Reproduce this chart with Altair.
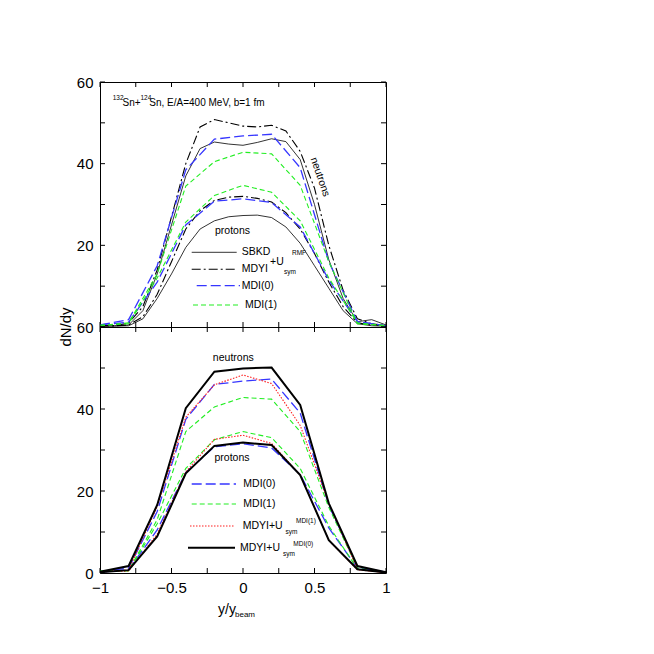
import altair as alt
import pandas as pd

# ---------------- data ----------------
X_FINE = [-1.0, -0.9, -0.8, -0.7, -0.6, -0.5, -0.4, -0.3, -0.2, -0.1, 0.0,
          0.1, 0.2, 0.3, 0.4, 0.5, 0.6, 0.7, 0.8, 0.9, 1.0]
X_COARSE = [-1.0, -0.8, -0.6, -0.4, -0.2, 0.0, 0.2, 0.4, 0.6, 0.8, 1.0]

# top panel
SBKD_N = [0.3, 0.3, 0.5, 4, 13, 25, 37, 43.7, 45.3, 44.8, 44.5, 45.2, 46.1, 45.4, 41, 30, 16.5, 7, 1.3, 1.8, 0.5]
SBKD_P = [0.2, 0.2, 0.3, 2, 7, 13, 19.5, 24, 26, 27, 27.3, 27.4, 26.8, 24.5, 20.5, 15, 9.5, 4, 0.8, 0.3, 0.2]
MDYI_N = [0.3, 0.3, 1, 5, 14, 27, 40, 49, 50.8, 50, 49.2, 49, 49.4, 48, 43, 34, 20, 9, 2, 0.8, 0.3]
MDYI_P = [0.3, 0.3, 0.5, 2.5, 8, 16, 24, 28.5, 31, 31.8, 32, 31.5, 30.6, 28, 24, 18, 11, 5, 1, 0.5, 0.3]
MDI0_N = [0.5, 1.8, 15, 38.5, 46, 46.8, 47.2, 39, 16, 1.3, 0.3]
MDI0_P = [0.5, 1.2, 11, 25, 30.8, 31.4, 30.5, 24.5, 11.5, 1.3, 0.3]
MDI1_N = [0.4, 1, 13, 34.5, 40.5, 42.8, 42.4, 34.7, 16, 0.8, 0.3]
MDI1_P = [0.4, 0.8, 12, 25.7, 32.2, 34.7, 33, 26, 12, 1, 0.3]

# bottom panel
B_MDI0_N = [0.3, 1.2, 15, 37.5, 46, 46.8, 47.3, 39, 16.5, 1.5, 0.2]
B_MDI0_P = [0.2, 0.8, 10.5, 24.5, 30.8, 31.5, 30.5, 24, 11, 1.2, 0.2]
B_MDI1_N = [0.5, 0.6, 13, 34.5, 40.5, 42.8, 42.4, 34.5, 16, 1.2, 0.2]
B_MDI1_P = [0.5, 0.5, 12, 25.5, 32.5, 34.5, 33, 25.5, 11.5, 1, 0.2]
B_MDYI1_N = [0.3, 0.7, 16.2, 38, 45.9, 48.3, 46.2, 36, 17, 0.9, 0.1]
B_MDYI1_P = [0.3, 0.5, 9.5, 24.7, 32.6, 33.6, 31.6, 23.9, 8, 0.8, 0.1]
B_MDYI0_N = [0.3, 1.7, 16.6, 40.2, 49.1, 49.9, 50.1, 41, 17, 1.7, 0.2]
B_MDYI0_P = [0.2, 0.7, 8.9, 24.3, 31, 31.8, 31.2, 23.9, 8, 0.9, 0.1]

Y_TICKS = [0, 10, 20, 30, 40, 50, 60]
X_TICKS = [-1, -0.75, -0.5, -0.25, 0, 0.25, 0.5, 0.75, 1]
Y_LABELS_TOP = [20, 40, 60]
Y_LABELS_BOT = [0, 20, 40, 60]
X_LABELS = [-1, -0.5, 0, 0.5, 1]


def long_df(x, n, p, model):
    rows = []
    for xi, v in zip(x, n):
        rows.append({"x": xi, "y": v, "model": model, "part": "neutrons"})
    for xi, v in zip(x, p):
        rows.append({"x": xi, "y": v, "model": model, "part": "protons"})
    return rows


top_df = pd.DataFrame(
    long_df(X_FINE, SBKD_N, SBKD_P, "SBKD")
    + long_df(X_FINE, MDYI_N, MDYI_P, "MDYI")
    + long_df(X_COARSE, MDI0_N, MDI0_P, "MDI0")
    + long_df(X_COARSE, MDI1_N, MDI1_P, "MDI1")
)
bot_df = pd.DataFrame(
    long_df(X_COARSE, B_MDI0_N, B_MDI0_P, "MDI0")
    + long_df(X_COARSE, B_MDI1_N, B_MDI1_P, "MDI1")
    + long_df(X_COARSE, B_MDYI1_N, B_MDYI1_P, "MDYI1")
    + long_df(X_COARSE, B_MDYI0_N, B_MDYI0_P, "MDYI0")
)

# ---------------- styling ----------------
W, H1, H2 = 286, 245, 246
REG = "Liberation Sans"
NAR = "Liberation Sans"
BLUE = "#3636ff"
GREEN = "#22ee22"
RED = "#ff2020"
FS = 10.5   # legend text size
SUP = 6.5   # super/subscript size

STYLE = {
    "SBKD": dict(color="black", strokeWidth=0.8),
    "MDYI": dict(color="black", strokeWidth=1.1, strokeDash=[9, 3, 2, 3]),
    "MDI0": dict(color=BLUE, strokeWidth=1.3, strokeDash=[10, 4]),
    "MDI1": dict(color=GREEN, strokeWidth=1.1, strokeDash=[5, 3]),
    "MDYI1": dict(color=RED, strokeWidth=1.1, strokeDash=[1.5, 1.5]),
    "MDYI0": dict(color="black", strokeWidth=2),
}

xs = alt.Scale(domain=[-1, 1], nice=False, zero=False)
ys = alt.Scale(domain=[0, 60], nice=False)


def yaxis(vals):
    return alt.Axis(values=vals, title=None, ticks=False, domain=False, grid=False,
                    labelFont=REG, labelFontSize=15, labelPadding=7, labelColor="black",
                    labelFlush=False)


XAX_BOT = alt.Axis(values=X_LABELS, format=".1~f", title=None, ticks=False, domain=False,
                   grid=False, labelFont=REG, labelFontSize=15, labelPadding=7,
                   labelColor="black", labelFlush=False)

DUMMY = pd.DataFrame({"d": [0]})
ydf = pd.DataFrame({"v": Y_TICKS})
xdf = pd.DataFrame({"v": X_TICKS})


def panel_layers(df, models, h, yax, xax):
    layers = []
    for m in models:
        layers.append(
            alt.Chart(df).transform_filter(alt.datum.model == m)
            .mark_line(**STYLE[m])
            .encode(x=alt.X("x:Q", scale=xs, axis=xax),
                    y=alt.Y("y:Q", scale=ys, axis=yax),
                    detail="part:N")
        )
    # inward ticks on all four sides
    layers.append(alt.Chart(ydf).mark_rule(color="black", strokeWidth=1).encode(
        y=alt.Y("v:Q", scale=ys, axis=yax), x=alt.value(0), x2=alt.value(5)))
    layers.append(alt.Chart(ydf).mark_rule(color="black", strokeWidth=1).encode(
        y=alt.Y("v:Q", scale=ys, axis=yax), x=alt.value(W - 5), x2=alt.value(W)))
    layers.append(alt.Chart(xdf).mark_rule(color="black", strokeWidth=1).encode(
        x=alt.X("v:Q", scale=xs, axis=xax), y=alt.value(h), y2=alt.value(h - 5)))
    layers.append(alt.Chart(xdf).mark_rule(color="black", strokeWidth=1).encode(
        x=alt.X("v:Q", scale=xs, axis=xax), y=alt.value(0), y2=alt.value(5)))
    return layers


def txt(s, x, y, size, font=NAR, align="left", baseline="middle", angle=0):
    return alt.Chart(DUMMY).mark_text(
        text=s, font=font, fontSize=size, align=align, baseline=baseline,
        angle=angle, color="black").encode(x=alt.value(x), y=alt.value(y))


def sample(model, x1, x2, y):
    return alt.Chart(DUMMY).mark_rule(**STYLE[model]).encode(
        x=alt.value(x1), x2=alt.value(x2), y=alt.value(y))


# ---------------- top panel ----------------
top_layers = panel_layers(top_df, ["SBKD", "MDYI", "MDI0", "MDI1"], H1, yaxis(Y_LABELS_TOP), None)
top_layers += [
    txt("132", 12.7, 17.5, SUP, baseline="alphabetic"),
    txt("Sn+", 22.5, 24, 10, baseline="alphabetic"),
    txt("124", 40.5, 17.5, SUP, baseline="alphabetic"),
    txt("Sn, E/A=400 MeV, b=1 fm", 49.3, 24, 10, baseline="alphabetic"),
    txt("protons", 132.5, 148.8, FS, align="center"),
    txt("neutrons", 220, 95, FS, align="center", angle=71),
    sample("SBKD", 91.7, 136.7, 170.3),
    txt("SBKD", 141.7, 170.3, FS),
    sample("MDYI", 91.7, 136.7, 187.3),
    txt("MDYI", 141.7, 187.3, FS),
    txt("+U", 170, 183, FS, baseline="alphabetic"),
    txt("sym", 184, 191.5, SUP, baseline="alphabetic"),
    txt("RMF", 192, 172.5, SUP, baseline="alphabetic"),
    sample("MDI0", 96.7, 140, 203.7),
    txt("MDI(0)", 141.7, 203.7, FS),
    sample("MDI1", 93, 138, 223),
    txt("MDI(1)", 145, 223, FS),
]
top = alt.layer(*top_layers).properties(width=W, height=H1)

# ---------------- bottom panel ----------------
bot_layers = panel_layers(bot_df, ["MDI0", "MDI1", "MDYI1", "MDYI0"], H2, yaxis(Y_LABELS_BOT), XAX_BOT)
bot_layers += [
    txt("neutrons", 133.3, 31.3, FS, align="center"),
    txt("protons", 132, 131.3, FS, align="center"),
    sample("MDI0", 91.7, 136, 157),
    txt("MDI(0)", 143.3, 157, FS),
    sample("MDI1", 91.7, 136, 177),
    txt("MDI(1)", 143.3, 177, FS),
    sample("MDYI1", 90, 135, 199),
    txt("MDYI+U", 142.7, 198.5, FS),
    txt("sym", 185.5, 207, SUP, baseline="alphabetic"),
    txt("MDI(1)", 196, 196, SUP, baseline="alphabetic"),
    sample("MDYI0", 88, 135, 220.7),
    txt("MDYI+U", 140, 220.7, FS),
    txt("sym", 183, 228.5, SUP, baseline="alphabetic"),
    txt("MDI(0)", 193.3, 219, SUP, baseline="alphabetic"),
    txt("dN/dy", -34, 0, 15, font=REG, align="center", angle=270),
    txt("y/y", 118, 287, 14, font=REG, baseline="alphabetic"),
    txt("beam", 135, 290, 8, font=REG, baseline="alphabetic"),
]
bot = alt.layer(*bot_layers).properties(width=W, height=H2)

chart = (
    alt.vconcat(top, bot, spacing=0, bounds="flush")
    .properties(padding={"left": 50, "top": 66, "right": 10, "bottom": 10}, background="white")
    .configure_view(stroke="black", strokeWidth=1)
)

chart.save("out.html", embed_options={"renderer": "svg", "actions": False})
